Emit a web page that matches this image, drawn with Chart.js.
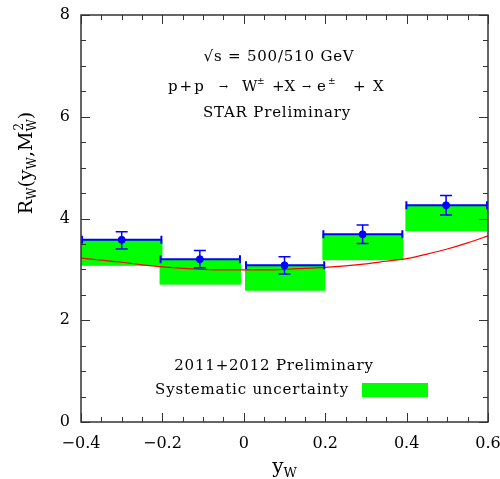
<!DOCTYPE html>
<html>
<head>
<meta charset="utf-8">
<script src="https://cdn.jsdelivr.net/npm/chart.js@4"></script>
<style>
  body { margin: 0; background: #fff; }
  canvas { display: block; }
</style>
</head>
<body>
<canvas id="rwChart" width="500" height="479"></canvas>
<script>
// bins in y_W
const binLo = [-0.4, -0.207, 0.003, 0.193, 0.397];
const binHi = [-0.2, -0.007, 0.2, 0.392, 0.6];
const xMean = [-0.3, -0.108, 0.1, 0.292, 0.497];
const rw = [3.58, 3.20, 3.08, 3.69, 4.26];
const statHi = [3.74, 3.37, 3.25, 3.87, 4.45];
const statLo = [3.40, 3.03, 2.91, 3.51, 4.07];
const sysLo = [3.07, 2.70, 2.58, 3.18, 3.75];

// theory curve
const curveX = [-0.4, -0.35, -0.3, -0.25, -0.2, -0.15, -0.1, -0.05, 0, 0.05, 0.1,
                0.15, 0.2, 0.25, 0.3, 0.35, 0.4, 0.45, 0.5, 0.55, 0.6];
const curveY = [3.22, 3.18, 3.14, 3.09, 3.05, 3.02, 3.00, 2.99, 2.99, 2.99, 3.00,
                3.02, 3.04, 3.07, 3.11, 3.16, 3.21, 3.30, 3.40, 3.52, 3.66];

const xTicks = [-0.4, -0.2, 0, 0.2, 0.4, 0.6];
const yTicks = [0, 2, 4, 6, 8];

const SERIF = "'DejaVu Serif', serif";

function fmtTick(v) {
  if (Math.abs(v) < 1e-9) return "0";
  return String(+v.toFixed(1)).replace("-", "\u2212");
}

// green systematic boxes under everything
const sysBoxes = {
  id: "sysBoxes",
  beforeDatasetsDraw(chart) {
    const { ctx, scales: { x, y } } = chart;
    ctx.save();
    ctx.fillStyle = "#00ff00";
    for (let i = 0; i < rw.length; i++) {
      const x0 = x.getPixelForValue(binLo[i]);
      const x1 = x.getPixelForValue(binHi[i]);
      const y0 = y.getPixelForValue(rw[i]);
      const y1 = y.getPixelForValue(sysLo[i]);
      ctx.fillRect(x0, y0, x1 - x0, y1 - y0);
    }
    ctx.restore();
  }
};

// bin widths + stat error bars
const errBars = {
  id: "errBars",
  afterDatasetsDraw(chart) {
    const { ctx, scales: { x, y } } = chart;
    ctx.save();
    ctx.strokeStyle = "#0000ff";
    for (let i = 0; i < rw.length; i++) {
      const x0 = x.getPixelForValue(binLo[i]);
      const x1 = x.getPixelForValue(binHi[i]);
      const xm = x.getPixelForValue(xMean[i]);
      const yv = y.getPixelForValue(rw[i]);
      const yh = y.getPixelForValue(statHi[i]);
      const yl = y.getPixelForValue(statLo[i]);
      ctx.lineWidth = 2;
      ctx.beginPath();
      ctx.moveTo(x0, yv); ctx.lineTo(x1, yv);
      ctx.moveTo(x0 + 1, yv - 4); ctx.lineTo(x0 + 1, yv + 4);
      ctx.moveTo(x1 - 1, yv - 4); ctx.lineTo(x1 - 1, yv + 4);
      ctx.stroke();
      ctx.lineWidth = 1.5;
      ctx.beginPath();
      ctx.moveTo(xm, yh); ctx.lineTo(xm, yl);
      ctx.moveTo(xm - 6, yh); ctx.lineTo(xm + 6, yh);
      ctx.moveTo(xm - 6, yl); ctx.lineTo(xm + 6, yl);
      ctx.stroke();
    }
    ctx.restore();
  }
};

// frame, inward ticks, titles, annotations
const frameAndText = {
  id: "frameAndText",
  afterDraw(chart) {
    const { ctx, chartArea: a, scales: { x, y } } = chart;
    ctx.save();
    ctx.strokeStyle = "#333";
    ctx.lineWidth = 1.5;
    ctx.strokeRect(a.left, a.top, a.right - a.left, a.bottom - a.top);

    ctx.lineWidth = 1;
    ctx.beginPath();
    for (let k = 0; k <= 20; k++) {
      const v = -0.4 + k * 0.05;
      const px = Math.round(x.getPixelForValue(v)) + 0.5;
      const len = k % 4 === 0 ? 9 : 5;
      ctx.moveTo(px, a.bottom); ctx.lineTo(px, a.bottom - len);
      ctx.moveTo(px, a.top); ctx.lineTo(px, a.top + len);
    }
    for (let k = 0; k <= 16; k++) {
      const v = k * 0.5;
      const py = Math.round(y.getPixelForValue(v)) + 0.5;
      const len = k % 4 === 0 ? 9 : 5;
      ctx.moveTo(a.left, py); ctx.lineTo(a.left + len, py);
      ctx.moveTo(a.right, py); ctx.lineTo(a.right - len, py);
    }
    ctx.stroke();

    ctx.fillStyle = "#000";
    ctx.textBaseline = "alphabetic";

    // x title: y_W
    ctx.font = "20px " + SERIF;
    const wy = ctx.measureText("y").width;
    ctx.font = "13px " + SERIF;
    const ww = ctx.measureText("W").width;
    let tx = (a.left + a.right) / 2 - (wy + ww) / 2;
    ctx.font = "20px " + SERIF;
    ctx.fillText("y", tx, 473);
    ctx.font = "13px " + SERIF;
    ctx.fillText("W", tx + wy, 477);

    // y title: R_W(y_W,M_W^2), rotated
    const parts = [
      ["R", 19, 0], ["W", 12, 4], ["(y", 19, 0], ["W", 12, 4],
      [",M", 19, 0], ["W", 12, 4], [")", 19, 0]
    ];
    let total = 0;
    for (const p of parts) {
      ctx.font = p[1] + "px " + SERIF;
      p.push(ctx.measureText(p[0]).width);
      total += p[3];
    }
    ctx.translate(32, 163);
    ctx.rotate(-Math.PI / 2);
    let lx = -total / 2;
    for (let i = 0; i < parts.length; i++) {
      const p = parts[i];
      ctx.font = p[1] + "px " + SERIF;
      ctx.fillText(p[0], lx, p[2]);
      if (i === 5) {
        ctx.fillText("2", lx + 1, -9);
      }
      lx += p[3];
    }
    ctx.setTransform(1, 0, 0, 1, 0, 0);

    // annotations
    ctx.font = "15px " + SERIF;
    ctx.letterSpacing = "0.8px";
    ctx.textAlign = "center";
    ctx.textBaseline = "middle";
    ctx.fillText("\u221As = 500/510 GeV", 279, 57);
    ctx.fillText("STAR Preliminary", 277, 113);
    ctx.fillText("2011+2012 Preliminary", 274, 366);
    ctx.fillText("Systematic uncertainty", 252, 390);

    ctx.textAlign = "left";
    ctx.textBaseline = "alphabetic";
    const big = "15px " + SERIF;
    const arrow = "11px " + SERIF;
    const small = "9px " + SERIF;
    const seg = [
      ["p+p", 168, big, 91, "2px"], ["\u2192", 219, arrow, 90, "0px"],
      ["W", 242, big, 91, "0px"], ["\u00B1", 257, small, 84, "0px"],
      ["+X", 272, big, 91, "0px"], ["\u2192", 302, arrow, 90, "0px"],
      ["e", 317, big, 91, "0px"], ["\u00B1", 328, small, 84, "0px"],
      ["+", 353, big, 91, "0px"], ["X", 373, big, 91, "0px"]
    ];
    for (const s of seg) {
      ctx.font = s[2];
      ctx.letterSpacing = s[4];
      ctx.fillText(s[0], s[1], s[3]);
    }
    ctx.letterSpacing = "0px";

    ctx.fillStyle = "#00ff00";
    ctx.fillRect(362, 383, 66, 14);
    ctx.restore();
  }
};

const ctx = document.getElementById("rwChart").getContext("2d");
new Chart(ctx, {
  type: "scatter",
  data: {
    datasets: [
      {
        type: "line",
        data: curveX.map((v, i) => ({ x: v, y: curveY[i] })),
        borderColor: "#ff0000",
        borderWidth: 1.2,
        pointRadius: 0,
        fill: false,
        cubicInterpolationMode: "monotone",
        order: 2
      },
      {
        data: xMean.map((v, i) => ({ x: v, y: rw[i] })),
        backgroundColor: "#0000ff",
        borderColor: "#0000ff",
        pointRadius: 3.5,
        order: 1
      }
    ]
  },
  options: {
    responsive: false,
    animation: false,
    layout: { padding: { top: 15, right: 12, left: 0, bottom: 0 } },
    plugins: { legend: { display: false }, tooltip: { enabled: false } },
    scales: {
      x: {
        type: "linear",
        min: -0.4,
        max: 0.6,
        afterBuildTicks: s => { s.ticks = xTicks.map(v => ({ value: v })); },
        grid: { display: false, drawTicks: false },
        border: { display: false },
        ticks: {
          autoSkip: false,
          maxRotation: 0,
          padding: 12,
          color: "#000",
          font: { family: SERIF, size: 16 },
          callback: fmtTick
        },
        afterFit: s => { s.height = 57; s.paddingLeft = 0; s.paddingRight = 0; }
      },
      y: {
        min: 0,
        max: 8,
        afterBuildTicks: s => { s.ticks = yTicks.map(v => ({ value: v })); },
        grid: { display: false, drawTicks: false },
        border: { display: false },
        ticks: {
          padding: 11,
          color: "#000",
          font: { family: SERIF, size: 16 },
          callback: fmtTick
        },
        afterFit: s => { s.width = 81; s.paddingTop = 0; s.paddingBottom = 0; }
      }
    }
  },
  plugins: [sysBoxes, errBars, frameAndText]
});
</script>
</body>
</html>
